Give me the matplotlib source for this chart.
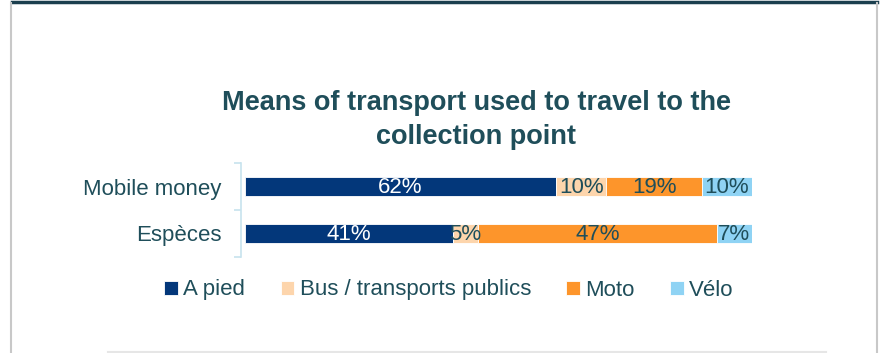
import numpy as np
import matplotlib.pyplot as plt
from matplotlib.lines import Line2D

# data
categories = ["Espèces", "Mobile money"]
series = ["A pied", "Bus / transports publics", "Moto", "Vélo"]
a_pied = [41, 62]
bus = [5, 10]
moto = [47, 19]
velo = [7, 10]
colors = ["#03377a", "#fdd5ac", "#fd952b", "#8fd3f4"]
label_colors = ["white", "#1f4e5a", "#1f4e5a", "#1f4e5a"]

txt = "#1f4e5a"
plt.rcParams['font.family'] = ['Liberation Sans', 'DejaVu Sans']

W, H = 882, 353
fig = plt.figure(figsize=(W / 100, H / 100), dpi=100)
ax = fig.add_axes([245 / W, 1 - 257 / H, 507 / W, 94 / H])

vals = np.array([a_pied, bus, moto, velo], dtype=float)
shares = vals / vals.sum(axis=0)
y = np.arange(len(categories))
left = np.zeros(len(categories))
for i, name in enumerate(series):
    bars = ax.barh(y, shares[i], left=left, height=0.41, color=colors[i],
                   edgecolor="white", linewidth=0.6, label=name)
    for j, b in enumerate(bars):
        ax.text(left[j] + shares[i][j] / 2, y[j] - 0.02, "%d%%" % vals[i][j],
                ha="center", va="center", fontsize=16, color=label_colors[i],
                zorder=5)
    left += shares[i]

ax.set_xlim(0, 1)
ax.set_ylim(-0.5, 1.5)
ax.set_xticks([])
ax.set_yticks(y)
ax.set_yticklabels(categories)
ax.set_yticks([-0.5, 0.5, 1.5], minor=True)
ax.tick_params(axis="y", which="major", length=0, pad=14, labelsize=16, labelcolor=txt)
ax.tick_params(axis="y", which="minor", length=5, color="#c7e3ee", width=1.2)
for s in ["top", "right", "bottom"]:
    ax.spines[s].set_visible(False)
ax.spines["left"].set_color("#c7e3ee")
ax.spines["left"].set_linewidth(1.2)
ax.spines["left"].set_position(("outward", 3))

fig.text(476 / W, 1 - 120 / H,
         "Means of transport used to travel to the\ncollection point",
         ha="center", va="center", fontsize=19.5, fontweight="bold",
         color=txt, linespacing=1.35)

handles, labels = ax.get_legend_handles_labels()
fig.legend(handles, labels, loc="center", bbox_to_anchor=(449 / W, 1 - 290 / H),
           ncol=4, frameon=False, fontsize=16, handlelength=0.6,
           handleheight=0.6, handletextpad=0.25, columnspacing=1.6,
           labelcolor=txt)

# frame lines around the slide
fig.add_artist(Line2D([12 / W, 877 / W], [1 - 1.5 / H, 1 - 1.5 / H],
                      color="#1b3f4e", linewidth=2.5))
fig.add_artist(Line2D([11 / W, 11 / W], [0, 1 - 3 / H], color="#c8c8c8", linewidth=1.5))
fig.add_artist(Line2D([877 / W, 877 / W], [0, 1 - 3 / H], color="#c8c8c8", linewidth=1.5))
fig.add_artist(Line2D([108 / W, 826 / W], [1 - 352 / H, 1 - 352 / H],
                      color="#e6e6e6", linewidth=1.5))

fig.savefig("out.png", dpi=100)
